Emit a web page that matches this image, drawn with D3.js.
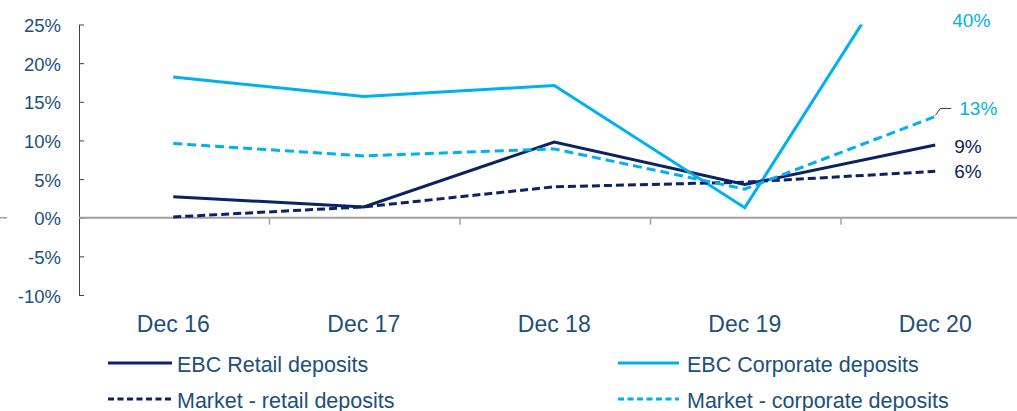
<!DOCTYPE html>
<html>
<head>
<meta charset="utf-8">
<script src="https://cdn.jsdelivr.net/npm/d3@7"></script>
<style>
  body { margin: 0; background: #fff; }
  text { font-family: "Liberation Sans", Arial, sans-serif; }
</style>
</head>
<body>
<svg id="chart" width="1017" height="411"></svg>
<script>
// data (percent)
const years = ["Dec 16", "Dec 17", "Dec 18", "Dec 19", "Dec 20"];
const ebcRetail = [2.7, 1.4, 9.8, 4.3, 9.4];
const ebcCorporate = [18.2, 15.7, 17.1, 1.3, 40];
const marketRetail = [0.1, 1.4, 4.0, 4.6, 6.0];
const marketCorporate = [9.6, 8.0, 8.9, 3.7, 13.1];
const yTicks = [-10, -5, 0, 5, 10, 15, 20, 25];
const endLabels = ["9%", "40%", "6%", "13%"];

const NAVY = "#0b2265";
const SKY = "#00b0f0";
const TEXT = "#1b4f7d";

const series = [
  { name: "EBC Retail deposits", values: ebcRetail, color: NAVY, dash: null, label: endLabels[0] },
  { name: "EBC Corporate deposits", values: ebcCorporate, color: SKY, dash: null, label: endLabels[1] },
  { name: "Market - retail deposits", values: marketRetail, color: NAVY, dash: "8,4", label: endLabels[2] },
  { name: "Market - corporate deposits", values: marketCorporate, color: SKY, dash: "9,5", label: endLabels[3] }
];

const svg = d3.select("#chart");
const plotLeft = 79, plotTop = 24.5, plotBottom = 295;

const x = d3.scaleBand().domain(years).range([plotLeft, plotLeft + 5 * 190.5]);
const y = d3.scaleLinear().domain([-10, 25]).range([plotBottom, plotTop]);
const cx = d => x(d) + x.bandwidth() / 2 - 1;

// clip for the line that runs off the top
svg.append("defs").append("clipPath").attr("id", "plot")
  .append("rect").attr("x", plotLeft).attr("y", plotTop)
  .attr("width", 1017 - plotLeft).attr("height", plotBottom - plotTop);

// y axis
const yAxis = svg.append("g")
  .attr("transform", `translate(${plotLeft},0)`)
  .call(d3.axisLeft(y).tickValues(yTicks).tickSizeInner(-5).tickSizeOuter(0).tickPadding(18)
    .tickFormat(d => d + "%"));
yAxis.select(".domain").attr("stroke", "#404040");
yAxis.selectAll(".tick line").attr("stroke", "#404040");
yAxis.selectAll(".tick text")
  .attr("fill", TEXT).attr("font-size", "18.5px")
  .attr("dy", "0.38em");

// zero line with category ticks
svg.append("line")
  .attr("x1", plotLeft).attr("x2", 1017).attr("y1", y(0)).attr("y2", y(0))
  .attr("stroke", "#a0a0a0").attr("stroke-width", 2);
svg.append("line")
  .attr("x1", 0).attr("x2", 7).attr("y1", y(0)).attr("y2", y(0))
  .attr("stroke", "#a0a0a0").attr("stroke-width", 1.5);
svg.selectAll(".cat-tick")
  .data(years.slice(1))
  .join("line")
  .attr("class", "cat-tick")
  .attr("x1", d => x(d)).attr("x2", d => x(d))
  .attr("y1", y(0)).attr("y2", y(0) + 7)
  .attr("stroke", "#a0a0a0").attr("stroke-width", 1.5);

// x labels
svg.selectAll(".xlab")
  .data(years)
  .join("text")
  .attr("class", "xlab")
  .attr("x", d => cx(d))
  .attr("y", 332)
  .attr("text-anchor", "middle")
  .attr("fill", TEXT)
  .attr("font-size", "23px")
  .text(d => d);

// lines
const line = d3.line()
  .x((d, i) => cx(years[i]))
  .y(d => y(d));

svg.append("g").attr("clip-path", "url(#plot)")
  .selectAll("path")
  .data(series)
  .join("path")
  .attr("d", d => line(d.values))
  .attr("fill", "none")
  .attr("stroke", d => d.color)
  .attr("stroke-width", 3)
  .attr("stroke-dasharray", d => d.dash)
  .attr("stroke-linejoin", "miter");

// end labels
const lastX = cx(years[4]);
const labelPos = [
  { s: series[0], x: lastX + 19, y: y(ebcRetail[4]) + 8 },
  { s: series[1], x: lastX + 17, y: plotTop + 2 },
  { s: series[2], x: lastX + 19, y: y(marketRetail[4]) + 7 },
  { s: series[3], x: lastX + 24, y: y(marketCorporate[4]) - 1 }
];
svg.selectAll(".endlab")
  .data(labelPos)
  .join("text")
  .attr("class", "endlab")
  .attr("x", d => d.x)
  .attr("y", d => d.y)
  .attr("fill", d => d.s.color === SKY ? SKY : NAVY)
  .attr("font-size", "19px")
  .text(d => d.s.label);

// leader for the 13% label
const ly = y(marketCorporate[4]);
svg.append("polyline")
  .attr("points", `${lastX},${ly - 1} ${lastX + 5},${ly - 8} ${lastX + 16},${ly - 8}`)
  .attr("fill", "none").attr("stroke", "#404040").attr("stroke-width", 1);

// legend
const legendPos = [
  { x: 108, y: 363 }, { x: 618, y: 363 },
  { x: 108, y: 399 }, { x: 618, y: 399 }
];
const lg = svg.selectAll(".legend")
  .data(series)
  .join("g")
  .attr("class", "legend")
  .attr("transform", (d, i) => `translate(${legendPos[i].x},${legendPos[i].y})`);
lg.append("line")
  .attr("x1", 0).attr("x2", (d, i) => i % 2 ? 61 : 64)
  .attr("stroke", d => d.color).attr("stroke-width", 3)
  .attr("stroke-dasharray", d => d.dash ? "6,3.5" : null);
lg.append("text")
  .attr("x", 69)
  .attr("y", 9)
  .attr("fill", TEXT)
  .attr("font-size", "21.5px")
  .text(d => d.name);
</script>
</body>
</html>
